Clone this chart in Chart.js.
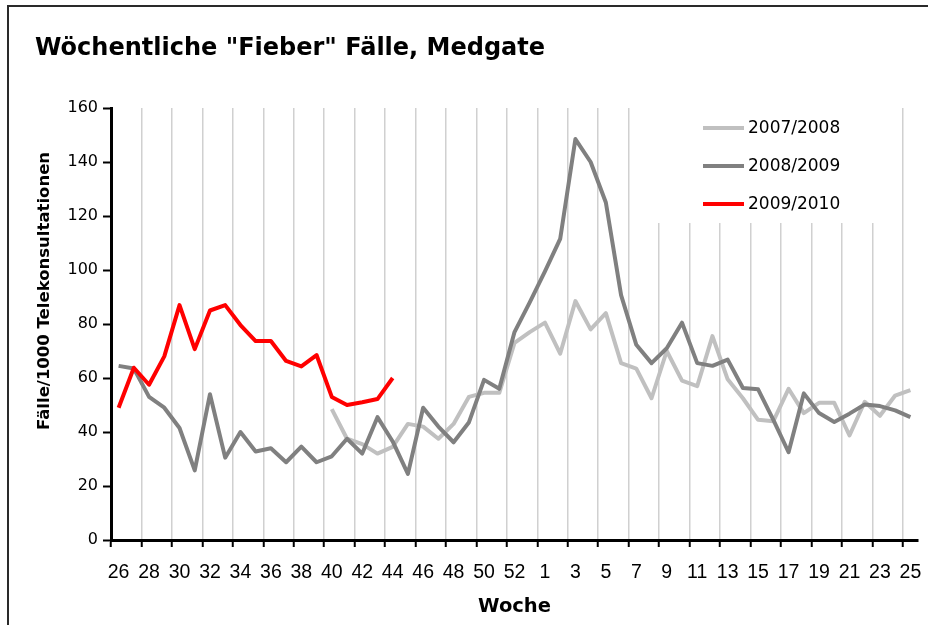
<!DOCTYPE html>
<html>
<head>
<meta charset="utf-8">
<script src="https://cdn.jsdelivr.net/npm/chart.js@4.4.1/dist/chart.umd.min.js"></script>
<style>
html, body { margin: 0; padding: 0; background: #fff; }
</style>
</head>
<body>
<canvas id="feverChart" width="928" height="625"></canvas>
<script>
const chartTitle = 'Wöchentliche "Fieber" Fälle, Medgate';
const yTitle = "Fälle/1000 Telekonsultationen";

// Kalenderwochen Juli bis Juni (2009 hatte eine Woche 53)
const weeks = [
	"26", "27", "28", "29", "30", "31", "32", "33", "34", "35", "36", "37", "38", "39",
	"40", "41", "42", "43", "44", "45", "46", "47", "48", "49", "50", "51", "52", "53",
	"1", "2", "3", "4", "5", "6", "7", "8", "9", "10", "11", "12", "13",
	"14", "15", "16", "17", "18", "19", "20", "21", "22", "23", "24", "25",
];

const season0708 = [
	null, null, null, null, null, null, null, null, null, null, null, null, null, null,
	48.5, 37.5, 35.5, 32, 34.5, 43, 42, 37.5, 43, 53, 54.5, 54.5, 73, 77,
	80.5, 69, 88.5, 78, 84, 65.5, 63.5, 52.5, 70, 59, 57, 75.5, 59.5,
	52.5, 44.5, 44, 56, 47, 50.8, 50.8, 38.7, 51.2, 46, 53.5, 55.5,
];

const season0809 = [
	64.5, 63.5, 53, 49, 41.5, 25.8, 54, 30.5, 40, 32.8, 34, 28.8, 34.6, 28.8,
	31, 37.5, 32, 45.5, 36.5, 24.5, 49, 42, 36.2, 43.5, 59.3, 56, 77, 88,
	99.5, 111.5, 148.5, 140, 125, 90.7, 72.3, 65.5, 71, 80.5, 65.5, 64.5, 66.8,
	56.3, 55.8, 44.5, 32.5, 54.3, 47, 43.7, 46.8, 50.2, 49.6, 48, 45.5,
];

const season0910 = [
	49, 63.8, 57.5, 68, 87, 70.7, 85, 87, 79.6, 73.7, 73.7, 66.3, 64.3, 68.5,
	53, 50, 51, 52.2, 60, null, null, null, null, null, null, null, null, null,
	null, null, null, null, null, null, null, null, null, null, null, null, null,
	null, null, null, null, null, null, null, null, null, null, null, null,
];

const seriesNames = ["2007/2008", "2008/2009", "2009/2010"];
const seriesColors = ["#c0c0c0", "#808080", "#ff0000"];

// Rahmen, Titel, Achsentitel und Legende wie im Excel-Diagramm
const excelLook = {
	id: "excelLook",
	beforeDraw(chart) {
		const c = chart.ctx;
		c.save();
		c.fillStyle = "#fff";
		c.fillRect(0, 0, chart.width, chart.height);
		c.strokeStyle = "#2a2a2a";
		c.lineWidth = 2;
		c.beginPath();
		c.moveTo(8, chart.height);
		c.lineTo(8, 6);
		c.lineTo(chart.width, 6);
		c.stroke();
		c.fillStyle = "#000";
		c.font = "bold 24px 'DejaVu Sans'";
		c.textBaseline = "alphabetic";
		c.fillText(chartTitle, 35, 55);
		// y-Achsentitel sitzt in Excel etwas oberhalb der Mitte
		c.translate(45, 291);
		c.rotate(-Math.PI / 2);
		c.font = "bold 16.5px 'DejaVu Sans'";
		c.textAlign = "center";
		c.textBaseline = "middle";
		c.fillText(yTitle, 0, 0);
		c.restore();
	},
	beforeDatasetsDraw(chart) {
		const c = chart.ctx;
		c.save();
		c.fillStyle = "#fff";
		c.fillRect(645, 100, 252, 123);
		c.font = "17px 'DejaVu Sans'";
		c.textBaseline = "middle";
		const rows = [128, 166, 204];
		for (let i = 0; i < seriesNames.length; i++) {
			c.strokeStyle = seriesColors[i];
			c.lineWidth = 4;
			c.beginPath();
			c.moveTo(703, rows[i]);
			c.lineTo(744, rows[i]);
			c.stroke();
			c.fillStyle = "#000";
			c.fillText(seriesNames[i], 748, rows[i] + 1);
		}
		c.restore();
	},
};

const isEven = (ctx) => ctx.index !== undefined && ctx.index % 2 === 0;

const ctx = document.getElementById("feverChart").getContext("2d");
const feverChart = new Chart(ctx, {
	type: "line",
	data: {
		labels: weeks,
		datasets: [
			{ label: seriesNames[0], data: season0708, borderColor: seriesColors[0], order: 3 },
			{ label: seriesNames[1], data: season0809, borderColor: seriesColors[1], order: 2 },
			{ label: seriesNames[2], data: season0910, borderColor: seriesColors[2], order: 1 },
		],
	},
	options: {
		responsive: false,
		animation: false,
		devicePixelRatio: 1,
		layout: { padding: { left: 26, right: 10, top: 108, bottom: 0 } },
		elements: {
			line: { borderWidth: 4, tension: 0, borderJoinStyle: "round", fill: false },
			point: { radius: 0, hoverRadius: 0 },
		},
		plugins: {
			legend: { display: false },
			title: { display: false },
			tooltip: { enabled: false },
		},
		scales: {
			x: {
				type: "category",
				offset: true,
				grid: {
					offset: true,
					color: (c) => (isEven(c) ? "#d0d0d0" : "rgba(0,0,0,0)"),
					lineWidth: 1.5,
					tickColor: (c) => (isEven(c) ? "#000" : "rgba(0,0,0,0)"),
					tickLength: 7,
					tickWidth: 2,
				},
				border: { display: true, color: "#000", width: 3 },
				ticks: {
					autoSkip: false,
					maxRotation: 0,
					color: "#000",
					padding: 6,
					font: { family: "Liberation Sans", size: 19.5, lineHeight: 2 },
					callback: function (value, index) {
						return index % 2 === 0 ? this.getLabelForValue(value) : "";
					},
				},
				title: {
					display: true,
					text: "Woche",
					color: "#000",
					font: { family: "DejaVu Sans", size: 19.5, weight: "bold" },
					padding: { top: 0, bottom: 6 },
				},
				afterFit(scale) {
					scale.height = 85;
				},
			},
			y: {
				min: 0,
				max: 160,
				ticks: {
					stepSize: 20,
					color: "#000",
					padding: 5,
					font: { family: "DejaVu Sans", size: 16 },
				},
				grid: {
					drawOnChartArea: false,
					drawTicks: true,
					tickLength: 8,
					tickColor: "#000",
					tickWidth: 2,
				},
				border: { display: true, color: "#000", width: 3 },
				afterFit(scale) {
					scale.width = 85;
				},
			},
		},
	},
	plugins: [excelLook],
});
</script>
</body>
</html>
